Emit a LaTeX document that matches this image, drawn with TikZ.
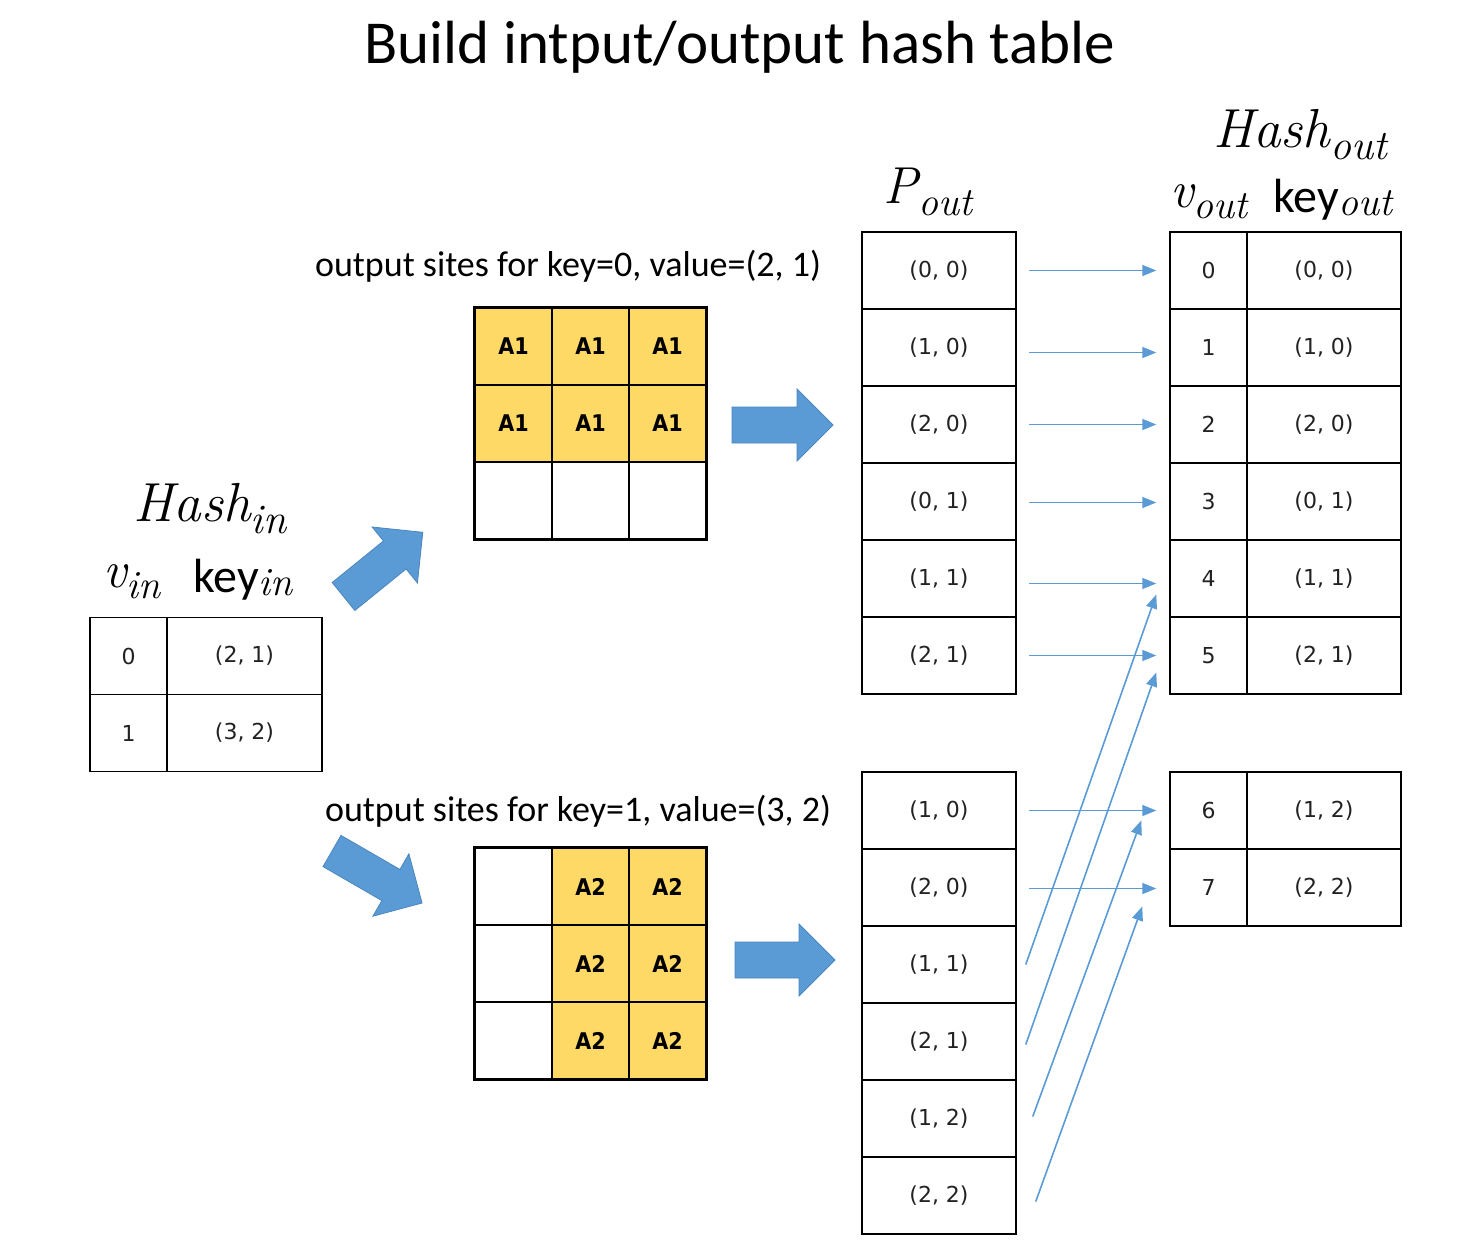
\documentclass[tikz,border=0pt]{standalone}
\usepackage{fontspec}
\usetikzlibrary{arrows.meta}
\newfontfamily\calfont{Carlito}
\newfontfamily\cellfont{DejaVu Sans}
\newfontfamily\gridfont[FakeStretch=0.9]{DejaVu Sans}
\definecolor{linkblue}{HTML}{5B9BD5}
\definecolor{blockblue}{HTML}{5B9BD5}
\definecolor{blockedge}{HTML}{4A86BE}
\definecolor{cellyellow}{HTML}{FFD966}
\definecolor{celltext}{HTML}{222222}
% italic label with lowered subscript: #1 base, #2 sub, #3 base size, #4 sub size
\newcommand\sublabel[4]{{\rmfamily\itshape\fontsize{#3}{#3}\selectfont #1\raisebox{-0.22em}{\fontsize{#4}{#4}\selectfont #2}}}
\newcommand\keylabel[3]{{\calfont\fontsize{#2}{#2}\selectfont key}{\rmfamily\itshape\raisebox{-0.22em}{\fontsize{#3}{#3}\selectfont #1}}}
\tikzset{
  tcell/.style={draw=black, line width=1.5pt, minimum height=77pt, inner sep=0pt, text=celltext, font=\cellfont\fontsize{22}{24}\selectfont},
  narrowcell/.style={tcell, minimum width=77pt},
  widecell/.style={tcell, minimum width=154pt},
  gcell/.style={draw=black, line width=1.4pt, minimum width=77pt, minimum height=77pt, inner sep=0pt, font=\gridfont\bfseries\fontsize{23}{24}\selectfont},
  gfilled/.style={gcell, fill=cellyellow},
  link/.style={draw=linkblue, line width=1.6pt, -{Triangle[length=14pt,width=11pt]}},
  barrow/.style={fill=blockblue, draw=blockedge, line width=0.8pt, line join=miter},
  lbl/.style={inner sep=0pt, font=\calfont\fontsize{36}{40}\selectfont},
  mlbl/.style={inner sep=0pt},
}
\newcommand\blockarrow[4]{%
  \begin{scope}[shift={(#1,#2)},rotate=#3]
    \filldraw[barrow] (0,-18) -- (#4-36,-18) -- (#4-36,-36) -- (#4,0) -- (#4-36,36) -- (#4-36,18) -- (0,18) -- cycle;
  \end{scope}}
\begin{document}
\begin{tikzpicture}[x=1pt,y=-1pt]
\useasboundingbox[fill=white] (0,0) rectangle (1472,1240);

% title
\node[inner sep=0pt, font=\calfont\fontsize{61}{66}\selectfont] (title) at (740,47) {Build intput/output hash table};

% Hash_in
\node[mlbl] (hinlbl) at (210,509) {\sublabel{Hash}{in}{55}{42}};
\node[mlbl] (vinlbl) at (132,582) {\sublabel{v}{in}{52}{40}};
\node[mlbl] (kinlbl) at (243,580) {\keylabel{in}{48}{40}};
\node[narrowcell] (hi0) at (128.5,656) {0};
\node[widecell, minimum width=155pt] (hi0k) at (244.5,656) {(2, 1)};
\node[narrowcell] (hi1) at (128.5,733) {1};
\node[widecell, minimum width=155pt] (hi1k) at (244.5,733) {(3, 2)};

% grid A1
\node[lbl] (s1lbl) at (568,266) {output sites for key=0, value=(2, 1)};
\foreach \c/\x in {0/513.5,1/590.5,2/667.5}{
  \node[gfilled] (ga0\c) at (\x,346.5) {A1};
  \node[gfilled] (ga1\c) at (\x,423.5) {A1};
  \node[gcell] (ga2\c) at (\x,500.5) {};
}
\draw[line width=3pt] (ga00.north west) rectangle (ga22.south east);

% grid A2
\node[lbl] (s2lbl) at (578,811) {output sites for key=1, value=(3, 2)};
\foreach \r/\y in {0/886.5,1/963.5,2/1040.5}{
  \node[gcell] (gb\r0) at (513.5,\y) {};
  \node[gfilled] (gb\r1) at (590.5,\y) {A2};
  \node[gfilled] (gb\r2) at (667.5,\y) {A2};
}
\draw[line width=3pt] (gb00.north west) rectangle (gb22.south east);

% block arrows
\blockarrow{343.5}{596.5}{39}{102}
\blockarrow{332}{851}{-30}{104}
\blockarrow{732}{425}{0}{101}
\blockarrow{735}{960}{0}{100}

% P_out
\node[mlbl] (poutlbl) at (928,192) {\sublabel{P}{out}{52}{40}};
\foreach \i/\t in {0/{(0, 0)},1/{(1, 0)},2/{(2, 0)},3/{(0, 1)},4/{(1, 1)},5/{(2, 1)}}{
  \node[widecell] (pa\i) at (939,270.5+77*\i) {\t};
}
\foreach \i/\t in {0/{(1, 0)},1/{(2, 0)},2/{(1, 1)},3/{(2, 1)},4/{(1, 2)},5/{(2, 2)}}{
  \node[widecell] (pb\i) at (939,810.5+77*\i) {\t};
}

% Hash_out
\node[mlbl] (houtlbl) at (1300,135) {\sublabel{Hash}{out}{55}{42}};
\node[mlbl] (voutlbl) at (1209,202) {\sublabel{v}{out}{52}{40}};
\node[mlbl] (koutlbl) at (1333,200) {\keylabel{out}{48}{40}};
\foreach \i/\t in {0/{(0, 0)},1/{(1, 0)},2/{(2, 0)},3/{(0, 1)},4/{(1, 1)},5/{(2, 1)}}{
  \node[narrowcell] (ha\i) at (1208.5,270.5+77*\i) {\i};
  \node[widecell] (ha\i k) at (1324,270.5+77*\i) {\t};
}
\node[narrowcell] (hb0) at (1208.5,810.5) {6};
\node[widecell] (hb0k) at (1324,810.5) {(1, 2)};
\node[narrowcell] (hb1) at (1208.5,887.5) {7};
\node[widecell] (hb1k) at (1324,887.5) {(2, 2)};

% links
\draw[link] ([xshift=12pt]pa0.east) -- ([xshift=-13pt]ha0.west);
\draw[link] ([xshift=12pt,yshift=-5pt]pa1.east) -- ([xshift=-13pt,yshift=-5pt]ha1.west);
\draw[link] ([xshift=12pt]pa2.east) -- ([xshift=-13pt]ha2.west);
\draw[link] ([xshift=12pt,yshift=-1pt]pa3.east) -- ([xshift=-13pt,yshift=-1pt]ha3.west);
\draw[link] ([xshift=12pt,yshift=-5pt]pa4.east) -- ([xshift=-13pt,yshift=-5pt]ha4.west);
\draw[link] ([xshift=12pt]pa5.east) -- ([xshift=-13pt]ha5.west);
\draw[link] ([xshift=12pt]pb0.east) -- ([xshift=-13pt]hb0.west);
\draw[link] ([xshift=12pt,yshift=-1pt]pb1.east) -- ([xshift=-13pt,yshift=-1pt]hb1.west);
\draw[link] ([xshift=9pt]pb2.east) -- ([xshift=-13pt,yshift=-16pt]ha4.west);
\draw[link] ([xshift=9pt,yshift=-3pt]pb3.east) -- ([xshift=-13pt,yshift=-17pt]ha5.west);
\draw[link] ([xshift=16pt,yshift=2pt]pb4.east) -- ([xshift=-28pt,yshift=-10pt]hb0.west);
\draw[link] ([xshift=19pt,yshift=-6pt]pb5.east) -- ([xshift=-27pt,yshift=-19pt]hb1.west);
\end{tikzpicture}
\end{document}
